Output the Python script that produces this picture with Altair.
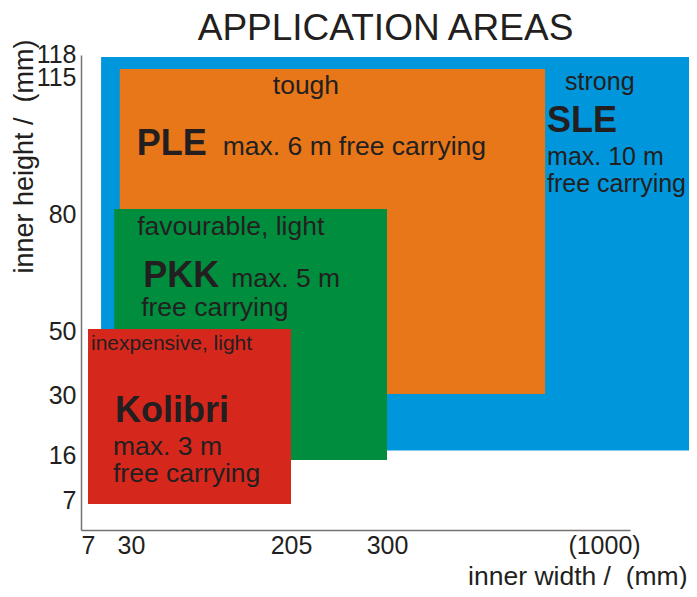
import altair as alt
import pandas as pd

# ---- data ----
boxes = ["SLE", "PLE", "PKK", "Kolibri"]
x_start = [14, 24, 21, 7]
x_end = [1300, 810, 300, 205]
y_start = [18, 30, 16, 7]
y_end = [118, 115, 80, 50]
box_colors = ["#0096DB", "#E87719", "#008D3E", "#D6271D"]
traits = ["strong", "tough", "favourable, light", "inexpensive, light"]
reaches = ["max. 10 m", "max. 6 m", "max. 5 m", "max. 3 m"]
carry_note = "free carrying"

x_ticks = [7, 30, 205, 300, 1000]
y_ticks = [7, 16, 30, 50, 80, 115, 118]

FONT = "Liberation Sans"
INK = "#231f20"
AXIS_GREY = "#767270"

boxes_df = pd.DataFrame({"box": boxes, "x0": x_start, "x1": x_end,
                         "y0": y_start, "y1": y_end})

rows = []
for i, b in enumerate(boxes):
    for role, txt in [("trait", traits[i]), ("name", b),
                      ("reach", reaches[i]), ("note", carry_note)]:
        rows.append({"box": b, "role": role, "text": txt,
                     "x0": x_start[i], "y1": y_end[i]})
text_df = pd.DataFrame(rows)

# piecewise (schematic) scales
x_scale = alt.Scale(domain=[0] + x_ticks + [1080],
                    range=[0, 7, 50, 210, 306, 523, 549],
                    nice=False, zero=False)
y_scale = alt.Scale(domain=[0] + y_ticks + [119],
                    range=[475, 449, 405, 339, 274, 154, 14, 2, 0],
                    nice=False, zero=False)

x_axis = alt.Axis(values=x_ticks, ticks=False, grid=False,
                  domainColor=AXIS_GREY, domainWidth=1.5,
                  labelFont=FONT, labelFontSize=25, labelColor=INK,
                  labelPadding=3, labelFlush=False, labelOverlap=False,
                  labelExpr="datum.value == 1000 ? '(1000)' : datum.label",
                  title="inner width /\u00a0 (mm)", titleFont=FONT,
                  titleFontSize=26.5, titleFontWeight="normal", titleColor=INK,
                  titleX=606, titleY=54, titleAlign="right",
                  titleBaseline="alphabetic")

y_offsets = {7: -3.5, 16: -4.5, 30: 1.5, 50: 2.5, 80: 5.5, 115: 8.5, 118: -2.5}
y_axis = alt.Axis(values=y_ticks, ticks=False, grid=False,
                  domainColor=AXIS_GREY, domainWidth=1.5,
                  labelFont=FONT, labelFontSize=25, labelColor=INK,
                  labelPadding=5, labelFlush=False, labelOverlap=False,
                  labelOffset={"condition": [
                      {"test": f"datum.value == {k}", "value": v}
                      for k, v in y_offsets.items()], "value": 0},
                  title="inner height /\u00a0 (mm)", titleFont=FONT,
                  titleFontSize=27, titleFontWeight="normal", titleColor=INK,
                  titleX=-49, titleY=101, titleAngle=270, titleAlign="center",
                  titleBaseline="alphabetic")

rects = alt.Chart(boxes_df).mark_rect().encode(
    x=alt.X("x0:Q", scale=x_scale, axis=x_axis),
    x2="x1:Q",
    y=alt.Y("y0:Q", scale=y_scale, axis=y_axis),
    y2="y1:Q",
    color=alt.Color("box:N", scale=alt.Scale(domain=boxes, range=box_colors),
                    legend=None),
)

# text offsets from each box's top-left corner (pixels)
layout = {
    "SLE": {"trait": (464, 33), "name": (446, 75), "reach": (446, 108), "note": (446, 135)},
    "PLE": {"trait": (153, 25), "name": (17, 86), "reach": (103, 86), "note": (219, 86)},
    "PKK": {"trait": (23, 26), "name": (29, 78), "reach": (117, 78), "note": (27, 107)},
    "Kolibri": {"trait": (3, 21), "name": (27, 93), "reach": (25, 126), "note": (25, 153)},
}

layers = [rects]
for b in boxes:
    for role, (dx, dy) in layout[b].items():
        if role == "name":
            size = 36
        elif b == "Kolibri" and role == "trait":
            size = 21
        elif b == "SLE":
            size = 25
        else:
            size = 26.5
        weight = "bold" if role == "name" else "normal"
        layers.append(
            alt.Chart(text_df)
            .transform_filter(f"datum.box == '{b}' && datum.role == '{role}'")
            .mark_text(align="left", baseline="alphabetic", dx=dx, dy=dy,
                       font=FONT, fontSize=size, fontWeight=weight, color=INK)
            .encode(x=alt.X("x0:Q", scale=x_scale, axis=x_axis),
                    y=alt.Y("y1:Q", scale=y_scale, axis=y_axis),
                    text="text:N")
        )

chart = alt.layer(*layers).properties(
    width=549, height=475,
    padding={"left": 73, "top": 47, "right": 59, "bottom": 59},
    autosize=alt.AutoSizeParams(type="none"),
    title=alt.TitleParams(text="APPLICATION AREAS", font=FONT, fontSize=37,
                          fontWeight="normal", color=INK, anchor="middle",
                          dx=30, dy=15, offset=6),
).configure_view(strokeWidth=0)

chart.save("out.html", embed_options={"renderer": "svg", "actions": False})
